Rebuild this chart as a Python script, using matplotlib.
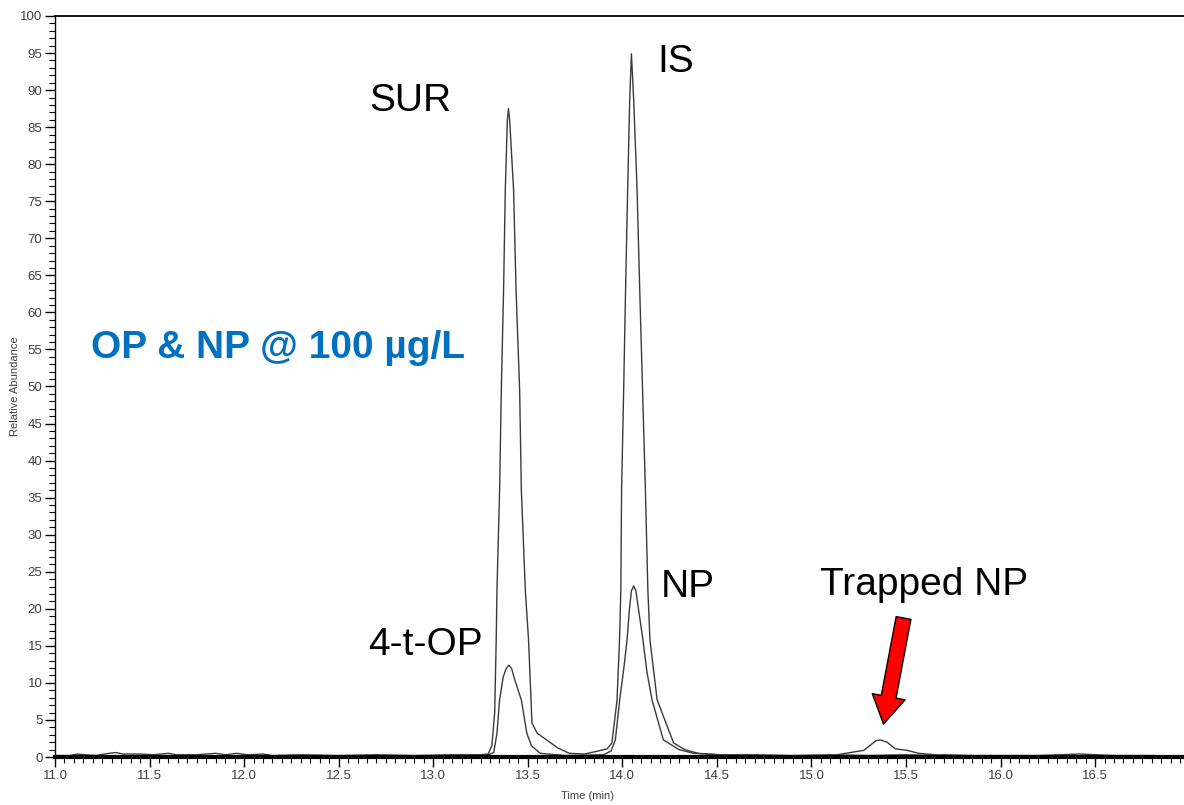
import matplotlib
matplotlib.use("Agg")
import matplotlib.pyplot as plt
from matplotlib.ticker import MultipleLocator, FormatStrFormatter

plt.rcParams["font.family"] = ["Liberation Sans", "DejaVu Sans"]

# trace 1: SUR + IS
time_a = [11.00, 11.08, 11.12, 11.16, 11.22, 11.26, 11.32, 11.36, 11.45, 11.52,
          11.60, 11.64, 11.75, 11.85, 11.90, 11.96, 12.02, 12.10, 12.15, 12.30,
          12.50, 12.70, 12.90, 13.10, 13.24, 13.29, 13.31, 13.325, 13.333, 13.337,
          13.351, 13.360, 13.372, 13.381, 13.392, 13.398, 13.404, 13.425, 13.438, 13.457,
          13.466, 13.487, 13.504, 13.515, 13.522, 13.55, 13.60, 13.66, 13.72, 13.80,
          13.87, 13.92, 13.945, 13.972, 13.985, 13.992, 13.996, 14.007, 14.017, 14.028,
          14.039, 14.048, 14.060, 14.078, 14.092, 14.107, 14.122, 14.135, 14.146, 14.184,
          14.271, 14.33, 14.40, 14.50, 14.70, 14.90, 15.10, 15.30, 15.50, 15.65,
          15.70, 15.85, 16.00, 16.20, 16.42, 16.60, 16.80, 16.97]
abund_a = [0.2, 0.2, 0.4, 0.3, 0.2, 0.4, 0.6, 0.4, 0.4, 0.3,
           0.5, 0.3, 0.3, 0.5, 0.3, 0.5, 0.3, 0.4, 0.2, 0.3,
           0.2, 0.3, 0.2, 0.3, 0.3, 0.4, 1.5, 6.0, 15.8, 22.5,
           36.0, 49.5, 63.0, 76.5, 86.0, 87.5, 86.0, 76.5, 63.0, 49.5,
           36.0, 22.5, 15.8, 9.0, 4.6, 3.2, 2.3, 1.2, 0.5, 0.4,
           0.8, 1.1, 1.9, 7.7, 15.8, 22.5, 36.0, 49.5, 63.0, 76.5,
           88.7, 94.9, 88.7, 76.5, 63.0, 49.5, 36.0, 22.5, 15.8, 7.7,
           1.9, 1.0, 0.5, 0.3, 0.3, 0.2, 0.3, 0.2, 0.3, 0.2,
           0.3, 0.2, 0.2, 0.2, 0.4, 0.2, 0.2, 0.1]

# trace 2: 4-t-OP + NP + trapped NP
time_b = [11.00, 11.30, 11.60, 11.90, 12.20, 12.50, 12.80, 13.10, 13.29, 13.32,
          13.337, 13.351, 13.37, 13.385, 13.40, 13.415, 13.43, 13.466, 13.495, 13.52,
          13.566, 13.70, 13.90, 13.94, 13.963, 13.986, 14.008, 14.025, 14.037, 14.048,
          14.060, 14.072, 14.088, 14.109, 14.130, 14.157, 14.217, 14.30, 14.376, 14.60,
          14.90, 15.10, 15.206, 15.277, 15.312, 15.34, 15.365, 15.40, 15.444, 15.506,
          15.566, 15.70, 16.00, 16.40, 16.97]
abund_b = [0.1, 0.1, 0.15, 0.1, 0.1, 0.15, 0.1, 0.1, 0.3, 0.6,
           3.2, 7.7, 10.8, 11.9, 12.4, 11.9, 10.5, 7.7, 3.2, 1.5,
           0.5, 0.2, 0.3, 0.8, 2.3, 7.7, 12.0, 15.8, 19.8, 22.4,
           23.1, 22.4, 19.5, 15.8, 11.5, 7.7, 2.3, 1.0, 0.5, 0.2,
           0.1, 0.15, 0.6, 0.9, 1.6, 2.2, 2.3, 2.0, 1.1, 0.9,
           0.5, 0.2, 0.1, 0.15, 0.1]

peak_labels = ["SUR", "IS", "4-t-OP", "NP", "Trapped NP"]
label_x = [12.878, 14.280, 12.958, 14.344, 15.593]
label_y = [87.2, 92.4, 13.8, 21.6, 21.9]

fig = plt.figure(figsize=(11.84, 8.05), dpi=100)
ax = fig.add_axes([55 / 1184, 1 - 757 / 805, 1 - 55 / 1184, 741 / 805])

ax.plot(time_a, abund_a, color="#3a3a3a", lw=1.0)
ax.plot(time_b, abund_b, color="#3a3a3a", lw=1.0)

ax.set_xlim(11.0, 16.97)
ax.set_ylim(0, 100)

ax.xaxis.set_major_locator(MultipleLocator(0.5))
ax.xaxis.set_minor_locator(MultipleLocator(0.05))
ax.xaxis.set_major_formatter(FormatStrFormatter("%.1f"))
ax.yaxis.set_major_locator(MultipleLocator(5))
ax.yaxis.set_minor_locator(MultipleLocator(1))

ax.tick_params(which="major", direction="out", length=7, width=1, labelsize=9.5,
               labelcolor="#404040", pad=2)
ax.tick_params(which="minor", direction="out", length=4, width=0.8)

ax.spines["right"].set_visible(False)
ax.spines["bottom"].set_linewidth(3)
ax.spines["top"].set_linewidth(1.3)
ax.spines["left"].set_linewidth(1.0)

ax.set_ylabel("Relative Abundance", fontsize=8, color="#404040")
ax.yaxis.set_label_coords(-0.031, 0.5)
ax.set_xlabel("Time (min)", fontsize=8, color="#404040")
ax.xaxis.set_label_coords(0.472, -0.046)

for name, x, y in zip(peak_labels, label_x, label_y):
    ax.text(x, y, name, fontsize=28, ha="center", va="baseline", color="black")

ax.text(12.180, 53.8, "OP & NP @ 100 µg/L", fontsize=28, fontweight="bold",
        ha="center", va="baseline", color="#0070C0")

ax.annotate("", xy=(15.381, 4.45), xytext=(15.487, 18.76),
            arrowprops=dict(arrowstyle="simple,head_length=0.5,head_width=0.6,tail_width=0.27",
                            mutation_scale=40, fc="#FF0000", ec="black", lw=1,
                            shrinkA=0, shrinkB=0))

fig.savefig("out.png", dpi=100)
